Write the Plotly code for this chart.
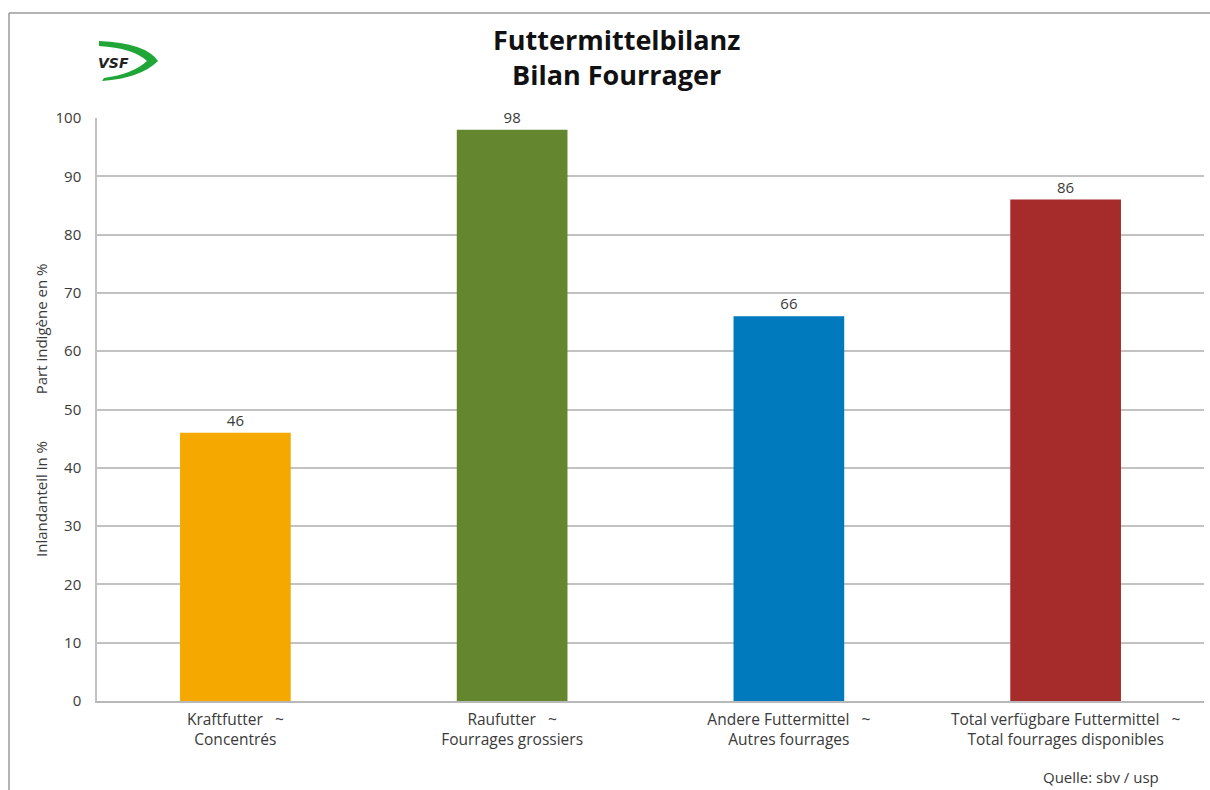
import plotly.graph_objects as go

# Futtermittelbilanz: Inlandanteil je Futterkategorie (in %)
categories = [
    "Kraftfutter   ~<br>Concentrés",
    "Raufutter   ~<br>Fourrages grossiers",
    "Andere Futtermittel   ~<br>Autres fourrages",
    "Total verfügbare Futtermittel   ~<br>Total fourrages disponibles",
]
values = [46, 98, 66, 86]
bar_colors = ["#F5A800", "#63862F", "#0079BD", "#A62C2B"]
y_ticks = [0, 10, 20, 30, 40, 50, 60, 70, 80, 90, 100]

W, H = 1210, 790
L, R, T, B = 97, 6, 118, 89
PW, PH = W - L - R, H - T - B

def px(x):
    return (x - L) / PW

def py(y):
    return (H - B - y) / PH

FONT = "Open Sans"
TXT = "#3a3a3a"

fig = go.Figure(
    go.Bar(
        x=categories,
        y=values,
        marker=dict(color=bar_colors, line=dict(width=0)),
        width=0.4,
        text=[str(v) for v in values],
        textposition="outside",
        textfont=dict(family=FONT, size=15, color=TXT),
        cliponaxis=False,
        hoverinfo="x+y",
    )
)

fig.update_layout(
    width=W,
    height=H,
    margin=dict(l=L, r=R, t=T, b=B, pad=0),
    paper_bgcolor="white",
    plot_bgcolor="white",
    showlegend=False,
    bargap=0.6,
    font=dict(family=FONT, size=15, color=TXT),
    xaxis=dict(
        type="category",
        range=[-0.5, 3.5],
        showgrid=False,
        showline=True,
        linecolor="#b8b8b8",
        linewidth=2,
        ticks="",
        tickfont=dict(family=FONT, size=15.5, color=TXT),
        ticklabelstandoff=3,
        fixedrange=True,
    ),
    yaxis=dict(
        range=[0, 100],
        tickvals=y_ticks,
        showgrid=True,
        gridcolor="#c2c2c2",
        gridwidth=1.5,
        zeroline=False,
        showline=True,
        linecolor="#c2c2c2",
        linewidth=1.5,
        ticks="",
        tickfont=dict(family=FONT, size=15, color=TXT),
        ticklabelstandoff=11,
        fixedrange=True,
    ),
)

# Titel
fig.add_annotation(
    text="<b>Futtermittelbilanz</b><br><b>Bilan Fourrager</b>",
    xref="paper", yref="paper",
    x=px(616), y=py(57),
    xanchor="center", yanchor="middle",
    showarrow=False,
    font=dict(family=FONT, size=27, color="#111111"),
    align="center",
)

# Achsentitel (zweisprachig, gedreht)
fig.add_annotation(
    text="Inlandanteil in %" + "\u00a0" * 12 + "Part indigène en %",
    xref="paper", yref="paper",
    x=px(41), y=py(411),
    xanchor="center", yanchor="middle",
    textangle=-90,
    showarrow=False,
    font=dict(family=FONT, size=15, color=TXT),
)

# Quelle
fig.add_annotation(
    text="Quelle: sbv / usp",
    xref="paper", yref="paper",
    x=px(1161), y=py(777),
    xanchor="right", yanchor="middle",
    showarrow=False,
    font=dict(family=FONT, size=15, color=TXT),
)

# Rahmen oben und links
fig.add_shape(type="line", xref="paper", yref="paper",
              x0=px(9), y0=py(13), x1=px(1210), y1=py(13),
              line=dict(color="#9a9a9a", width=1.5))
fig.add_shape(type="line", xref="paper", yref="paper",
              x0=px(9), y0=py(13), x1=px(9), y1=py(790),
              line=dict(color="#9a9a9a", width=1.5))

# Logo VSF: grüner Bogen mit Schriftzug
def P(x, y):
    return f"{px(x):.5f},{py(y):.5f}"

swoosh = (
    f"M {P(99,41)} Q {P(146,43)} {P(158,61)} Q {P(141,78)} {P(102,81)} "
    f"L {P(104,78)} Q {P(133,74)} {P(147,61)} Q {P(133,48)} {P(99,46)} Z"
)
fig.add_shape(type="path", xref="paper", yref="paper", path=swoosh,
              fillcolor="#1FA637", line=dict(width=0))
fig.add_annotation(
    text="<b><i>VSF</i></b>",
    xref="paper", yref="paper",
    x=px(113), y=py(63),
    xanchor="center", yanchor="middle",
    showarrow=False,
    font=dict(family="DejaVu Sans", size=14, color="#222222"),
)

fig.write_html("out.html")
